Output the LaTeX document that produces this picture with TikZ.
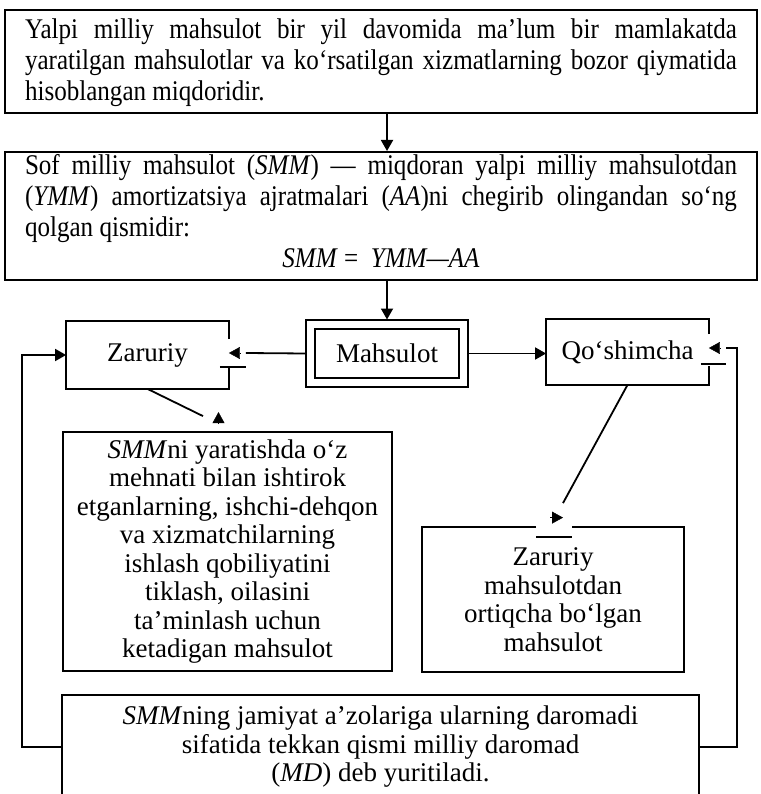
\documentclass[tikz,border=0pt]{standalone}
\usepackage{fontspec}
\setmainfont{Liberation Serif}
\newfontfamily\condensed[FakeStretch=0.88]{Liberation Serif}
\usetikzlibrary{calc, arrows.meta, positioning}

\begin{document}
\begin{tikzpicture}[
    x=1pt, y=-1pt,
    frame/.style={draw, line width=2pt, minimum width=752pt, inner sep=0pt},
    wide/.style={text width=712pt, inner sep=0pt, align=justify, font=\condensed\fontsize{28.5}{31}\selectfont},
    box/.style={line width=1.8pt, inner sep=0pt, align=center, font=\fontsize{27}{28.5}\selectfont},
    line/.style={draw, line width=1.8pt},
    arrow/.style={line, -{Triangle[length=11pt, width=12pt]}},
    head/.style={-{Triangle[length=11pt, width=12pt]}}
]
    \useasboundingbox (0,0) rectangle (760,794);
    \clip (0,0) rectangle (760,794);

    \node [frame, minimum height=103pt] (ymm) at (381,61.5) {};
    \node [wide, below=10pt of ymm.north] (ymmtext) {Yalpi milliy mahsulot bir yil davomida ma’lum bir mamlakatda\linebreak yaratilgan mahsulotlar va ko‘rsatilgan xizmatlarning bozor qiymatida\linebreak hisoblangan miqdoridir.};
    \node [frame, minimum height=128pt] (smm) at (381,216) {};
    \node [wide, below=3pt of smm.north] (smmtext) {Sof milliy mahsulot (\textit{SMM}) — miqdoran yalpi milliy mahsulotdan\linebreak (\textit{YMM}) amortizatsiya ajratmalari (\textit{AA})ni chegirib olingandan so‘ng\linebreak qolgan qismidir:\par{\centering\textit{SMM} = \ \textit{YMM—AA}\par}};

    \node [box, draw, double, double distance=7.7pt, line width=1.3pt, minimum width=153pt, minimum height=58pt, outer sep=5pt] (mahs) at (387,353.5) {Mahsulot};
    \node [box, minimum width=161pt, minimum height=66pt] (zar) at (147.5,355) {Zaruriy};
    \node [box, minimum width=161pt, minimum height=64pt] (qos) at (627.5,352) {Qo‘shimcha};

    \node [box, draw, minimum width=329pt, minimum height=239pt] (lft) at (227.5,551.5) {\textit{SMM}ni yaratishda o‘z\\ mehnati bilan ishtirok\\ etganlarning, ishchi-dehqon\\ va xizmatchilarning\\ ishlash qobiliyatini\\ tiklash, oilasini\\ ta’minlash uchun\\ ketadigan mahsulot};
    \node [box, minimum width=260pt, minimum height=143pt] (rgt) at (553,599.5) {Zaruriy\\ mahsulotdan\\ ortiqcha bo‘lgan\\ mahsulot};
    \node [box, minimum width=635pt, minimum height=102pt] (md) at (380.5,747) {\textit{SMM}ning jamiyat a’zolariga ularning daromadi\\ sifatida tekkan qismi milliy daromad\\ (\textit{MD}) deb yuritiladi.};

    \draw [line] ($(zar.north east)+(0,18)$) -- (zar.north east) -- (zar.north west) -- (zar.south west) -- (zar.south east) -- ($(zar.south east)+(0,-21)$);
    \draw [line] ($(qos.north east)+(0,15)$) -- (qos.north east) -- (qos.north west) -- (qos.south west) -- (qos.south east) -- ($(qos.south east)+(0,-19)$);
    \draw [line] ($(rgt.north)+(-17,0)$) -- (rgt.north west) -- (rgt.south west) -- (rgt.south east) -- (rgt.north east) -- ($(rgt.north)+(19,0)$);
    \draw [line] (md.south west) -- (md.north west) -- (md.north east) -- (md.south east);

    \draw [arrow] (ymm.south -| mahs) -- (smm.north -| mahs);
    \draw [arrow] (smm.south -| mahs) -- (mahs.north);
    \draw [arrow] (mahs.east) -- (mahs.east -| qos.west);

    \draw [line] (mahs.west) -- ($(zar.east)+(17,-2)$);
    \draw [head] ($(zar.east)+(11,-2)$) -- ($(zar.east)+(0,-2)$);
    \draw [line] ($(zar.east)+(-9,12)$) -- ($(zar.east)+(17,12)$);

    \draw [line] (md.east) -| ($(qos.east)+(28,-4)$) -- ($(qos.east)+(17,-4)$);
    \draw [head] ($(qos.east)+(11,-4)$) -- ($(qos.east)+(0,-4)$);
    \draw [line] ($(qos.south east)+(-8,-21)$) -- ($(qos.south east)+(17,-21)$);

    \draw [arrow] (md.west) -| ($(zar.west)+(-44,0)$) -- (zar.west);

    \draw [line] (zar.south) -- ($(lft.north)+(-24.5,-15)$);
    \draw [head] ($(lft.north)+(-9,-7)$) -- ($(lft.north)+(-9,-19)$);

    \draw [line] (qos.south) -- ($(rgt.north)+(10,-24)$);
    \draw [head] ($(rgt.north)+(-3,-9.5)$) -- ($(rgt.north)+(10,-9.5)$);
    \draw [line] ($(rgt.north)+(-17,10)$) -- ($(rgt.north)+(19,10)$);
\end{tikzpicture}
\end{document}
